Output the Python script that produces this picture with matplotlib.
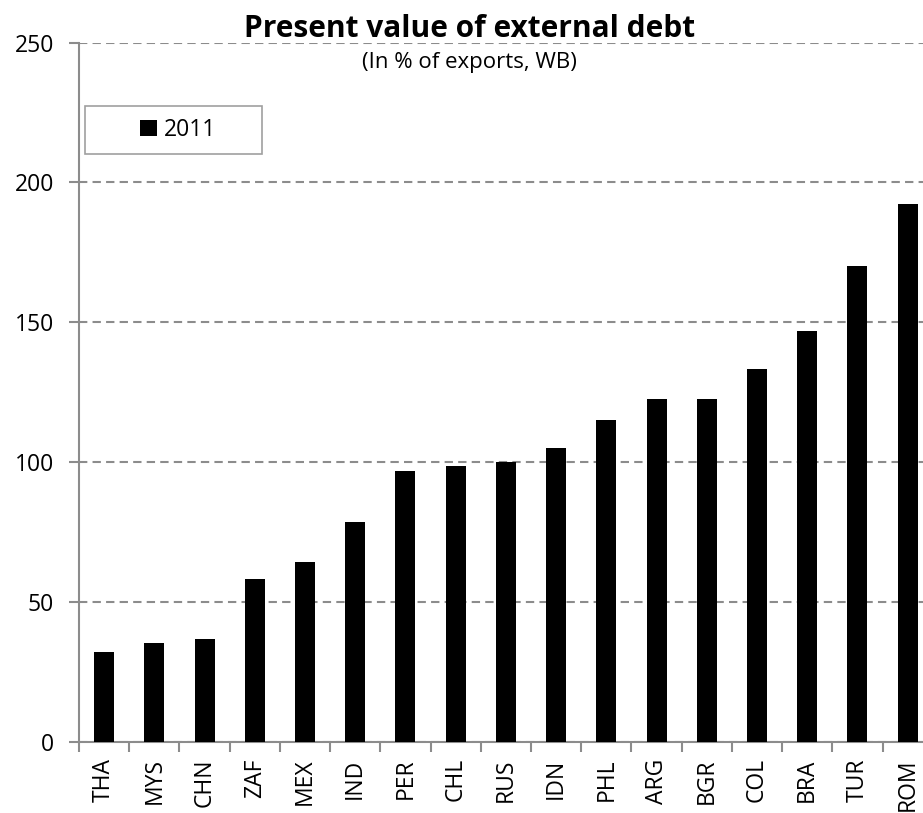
import matplotlib
matplotlib.use('Agg')
import matplotlib.pyplot as plt
from matplotlib.patches import Rectangle
import numpy as np

# Daten
countries = ['THA', 'MYS', 'CHN', 'ZAF', 'MEX', 'IND', 'PER', 'CHL', 'RUS',
             'IDN', 'PHL', 'ARG', 'BGR', 'COL', 'BRA', 'TUR', 'ROM']
pv_debt_2011 = [32.2, 35.2, 36.6, 58.1, 64.4, 78.5, 96.9, 98.6, 100.1,
                105.2, 114.9, 122.5, 122.5, 133.2, 147.0, 170.2, 192.3]
yticks = [0, 50, 100, 150, 200, 250]

plt.rcParams['font.family'] = ['Open Sans', 'DejaVu Sans']

fig = plt.figure(figsize=(9.23, 8.13), dpi=100)
# rechter Rand liegt wie im Original ausserhalb des Bildes
ax = fig.add_axes([0.0856, 0.0877, 0.925, 0.8598])

x = np.arange(len(countries))
ax.bar(x, pv_debt_2011, width=0.4, color='black', zorder=3, label='2011')

ax.set_xlim(-0.5, len(countries) - 0.5)
ax.set_ylim(0, 250)

ax.set_yticks(yticks)
ax.set_yticklabels([str(t) for t in yticks], fontsize=16.5)
ax.yaxis.grid(True, linestyle=(0, (4, 2.5)), color='#8c8c8c', lw=1.5)
ax.set_axisbelow(True)

# Beschriftungen in der Mitte, Tickstriche zwischen den Balken
ax.set_xticks(x)
ax.set_xticklabels(countries, rotation=90, fontsize=16.5)
ax.set_xticks(np.arange(-0.5, len(countries)), minor=True)
ax.tick_params(axis='x', which='major', length=0, pad=12)
ax.tick_params(axis='x', which='minor', length=7, width=1.5, color='#8c8c8c')
ax.tick_params(axis='y', length=7, width=1.5, color='#8c8c8c', pad=11)

for s in ['top', 'right']:
    ax.spines[s].set_visible(False)
for s in ['left', 'bottom']:
    ax.spines[s].set_color('#8c8c8c')
    ax.spines[s].set_linewidth(1.5)

fig.text(0.509, 0.9545, 'Present value of external debt', ha='center',
         va='baseline', fontsize=21.5, fontweight='bold')
fig.text(0.509, 0.9164, '(In % of exports, WB)', ha='center', va='baseline',
         fontsize=16)

# Legendenrahmen und Eintrag
ax.add_patch(Rectangle((0.007, 0.841), 0.2073, 0.0687, transform=ax.transAxes,
                       facecolor='white', edgecolor='#a0a0a0', lw=1.2,
                       zorder=4, clip_on=False))
leg = ax.legend(loc='center', bbox_to_anchor=(0.116, 0.875), fontsize=16.5,
                frameon=False, handlelength=0.7, handleheight=0.7,
                handletextpad=0.3, borderaxespad=0, borderpad=0)
leg.set_zorder(5)

fig.savefig('out.png', dpi=100)
